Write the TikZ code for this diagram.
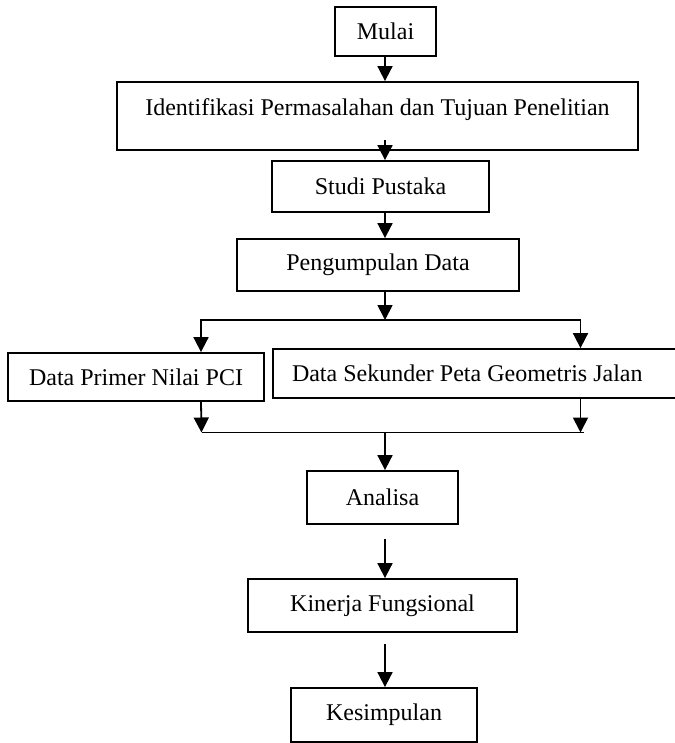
\documentclass[tikz,border=0pt]{standalone}
\usepackage{fontspec}
\setmainfont{Liberation Serif}
\usetikzlibrary{arrows.meta}
\usetikzlibrary{calc}
\tikzset{
	flownode/.style = {
		align=center,
		inner sep=0pt,
		text centered,
		font=\fontsize{12}{14}\selectfont,
		rectangle,
		draw=black,
		line width=0.9pt
	},
	node_wide/.style = {
		flownode,
		text height=9pt,
		text depth=9pt
	},
	node_left/.style = {
		flownode,
		align=flush left,
		inner xsep=9.5pt
	},
}

\begin{document}
\begin{tikzpicture}[x=0.5pt, y=-0.5pt, line width=0.9pt, >={Triangle[length=7.5pt,width=7.5pt]}]
\useasboundingbox (0,0) rectangle (674,743);

\node [flownode, minimum width=50.5pt, minimum height=24.5pt] (mulai) at (385.5,31.5) {Mulai};
\node [node_wide, minimum width=260.5pt, minimum height=34pt] (identifikasi) at (377.5,116) {Identifikasi Permasalahan dan Tujuan Penelitian};
\node [flownode, minimum width=108.5pt, minimum height=25.5pt] (studi) at (380.5,186.5) {Studi Pustaka};
\node [flownode, minimum width=141pt, minimum height=26pt] (pengumpulan) at (378,265) {Pengumpulan Data};
\node [flownode, minimum width=128pt, minimum height=24pt] (primer) at (136,377) {Data Primer Nilai PCI};
\node [node_left, text width=182.5pt, minimum height=24.5pt] (sekunder) at (474.5,373.5) {Data Sekunder Peta Geometris Jalan};
\node [flownode, minimum width=75.5pt, minimum height=26.5pt] (analisa) at (382.5,497.5) {Analisa};
\node [flownode, minimum width=134.5pt, minimum height=26.5pt] (kinerja) at (382.5,605.5) {Kinerja Fungsional};
\node [flownode, minimum width=93pt, minimum height=27pt] (kesimpulan) at (384,715) {Kesimpulan};

% branch and join points
\coordinate (spine) at (385,0);
\coordinate (pecah) at (385,320);
\coordinate (pecahkiri) at (201,320);
\coordinate (pecahkanan) at (580.5,320);
\coordinate (gabungkiri) at (201.5,432.5);
\coordinate (gabungkanan) at (583.5,432.5);
\coordinate (gabung) at (385,432.5);

\draw [->] (mulai.south -| spine) -- (identifikasi.north -| spine);
\draw [->] ($(identifikasi.south -| spine)+(0,-11)$) -- (studi.north -| spine);
\draw [->] (studi.south -| spine) -- (pengumpulan.north -| spine);
\draw [->] (pengumpulan.south -| spine) -- (pecah);
\draw [->] (pecah) -| (primer.north -| pecahkiri);
\draw [->] (pecah) -| (sekunder.north -| pecahkanan);
\draw [->] (primer.south -| pecahkiri) -- (gabungkiri);
\draw [->] (sekunder.south -| pecahkanan) -- (pecahkanan |- gabungkanan);
\draw (gabungkiri) -- (gabungkanan);
\draw [->] (gabung) -- (analisa.north -| spine);
\draw [->] ($(analisa.south -| spine)+(0,14)$) -- (kinerja.north -| spine);
\draw [->] ($(kinerja.south -| spine)+(0,11)$) -- (kesimpulan.north -| spine);
\end{tikzpicture}
\end{document}
